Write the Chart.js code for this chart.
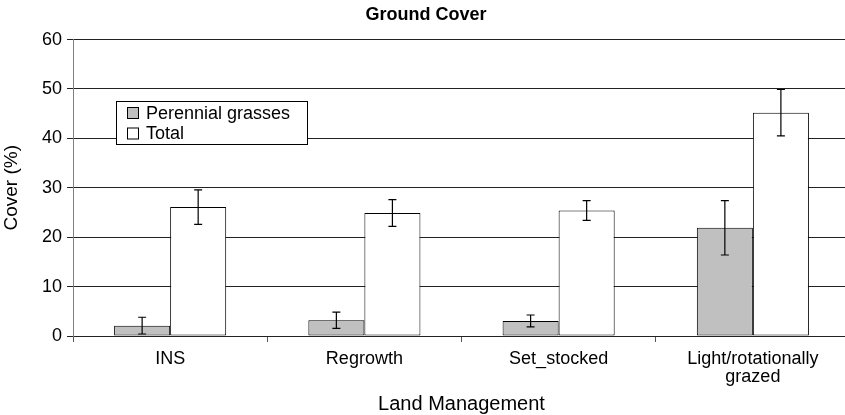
<!DOCTYPE html>
<html>
<head>
<meta charset="utf-8">
<script src="https://cdn.jsdelivr.net/npm/chart.js@4"></script>
<style>
	html, body { margin: 0; padding: 0; background: #fff; overflow: hidden; }
	#wrap { width: 852px; height: 415px; }
</style>
</head>
<body>
<div id="wrap"><canvas id="barChart" width="852" height="415"></canvas></div>
<script>
let categories = ["INS", "Regrowth", "Set_stocked", ["Light/rotationally", "grazed"]];
let perennial = [2.1, 3.2, 3.05, 21.9];
let perennialErr = [1.7, 1.65, 1.2, 5.5];
let total = [26.1, 24.9, 25.4, 45.2];
let totalErr = [3.5, 2.7, 2.0, 4.7];
let yTicks = [0, 10, 20, 30, 40, 50, 60];

let fontName = "'Liberation Sans', Arial, sans-serif";

// error bars drawn on top of each bar
let errorBars = {
	id: "errorBars",
	afterDatasetsDraw: function(chart) {
		let ctx = chart.ctx;
		let yScale = chart.scales.y;
		ctx.save();
		ctx.strokeStyle = "#000";
		ctx.lineWidth = 1.2;
		chart.data.datasets.forEach(function(ds, i) {
			let meta = chart.getDatasetMeta(i);
			meta.data.forEach(function(bar, j) {
				let v = ds.data[j];
				let e = ds.errors[j];
				let yTop = yScale.getPixelForValue(v + e);
				let yBot = yScale.getPixelForValue(v - e);
				ctx.beginPath();
				ctx.moveTo(bar.x, yTop);
				ctx.lineTo(bar.x, yBot);
				ctx.moveTo(bar.x - 4, yTop);
				ctx.lineTo(bar.x + 4, yTop);
				ctx.moveTo(bar.x - 4, yBot);
				ctx.lineTo(bar.x + 4, yBot);
				ctx.stroke();
			});
		});
		ctx.restore();
	}
};

// legend box inside the plot, like the original
let boxLegend = {
	id: "boxLegend",
	afterDraw: function(chart) {
		let ctx = chart.ctx;
		let x = 116, y = 101, w = 191, h = 43;
		ctx.save();
		ctx.fillStyle = "#fff";
		ctx.fillRect(x, y, w, h);
		ctx.strokeStyle = "#000";
		ctx.lineWidth = 1;
		ctx.strokeRect(x + 0.5, y + 0.5, w, h);
		ctx.font = "18px " + fontName;
		ctx.textBaseline = "middle";
		chart.data.datasets.forEach(function(ds, i) {
			let cy = y + 12 + i * 20.5;
			ctx.fillStyle = ds.backgroundColor;
			ctx.fillRect(127.5, cy - 5.5, 11, 11);
			ctx.strokeStyle = "#000";
			ctx.strokeRect(127.5, cy - 5.5, 11, 11);
			ctx.fillStyle = "#000";
			ctx.fillText(ds.label, 146, cy + 1);
		});
		ctx.restore();
	}
};

let data = {
	labels: categories,
	datasets: [
		{
			label: "Perennial grasses",
			data: perennial,
			errors: perennialErr,
			backgroundColor: "#c0c0c0",
			borderColor: "#000",
			borderWidth: 1,
			borderSkipped: false
		},
		{
			label: "Total",
			data: total,
			errors: totalErr,
			backgroundColor: "#ffffff",
			borderColor: "#000",
			borderWidth: 1,
			borderSkipped: false
		}
	]
};

let options = {
	responsive: false,
	animation: false,
	devicePixelRatio: 1,
	categoryPercentage: 0.577,
	barPercentage: 1.0,
	layout: { padding: { left: 2, right: 2, top: 0, bottom: 0 } },
	plugins: {
		legend: { display: false },
		tooltip: { enabled: false },
		title: {
			display: true,
			text: "Ground Cover",
			color: "#000",
			font: { family: fontName, size: 18, weight: "bold", lineHeight: 1.2 },
			padding: { top: 4, bottom: 14 }
		}
	},
	scales: {
		x: {
			grid: { drawOnChartArea: false, drawTicks: true, tickLength: 6, color: "#555" },
			border: { color: "#222", width: 1 },
			ticks: {
				color: "#000",
				padding: 8,
				maxRotation: 0,
				autoSkip: false,
				font: { family: fontName, size: 18, lineHeight: 1.0 }
			},
			title: {
				display: true,
				text: "Land Management",
				color: "#000",
				font: { family: fontName, size: 20, lineHeight: 1.0 },
				padding: { top: 0, bottom: 1 }
			}
		},
		y: {
			min: 0,
			max: 60,
			afterBuildTicks: function(axis) {
				axis.ticks = yTicks.map(function(v) { return { value: v }; });
			},
			grid: { color: "#222", tickLength: 6, lineWidth: 1 },
			border: { color: "#808080", width: 1 },
			ticks: {
				color: "#000",
				padding: 5,
				font: { family: fontName, size: 18 }
			},
			title: {
				display: true,
				text: "Cover (%)",
				color: "#000",
				font: { family: fontName, size: 19, lineHeight: 1.0 },
				padding: { top: 0, bottom: 16 }
			}
		}
	}
};

let ctx = document.getElementById("barChart").getContext("2d");
let barChart = new Chart(ctx, {
	type: "bar",
	data: data,
	options: options,
	plugins: [errorBars, boxLegend]
});
</script>
</body>
</html>
